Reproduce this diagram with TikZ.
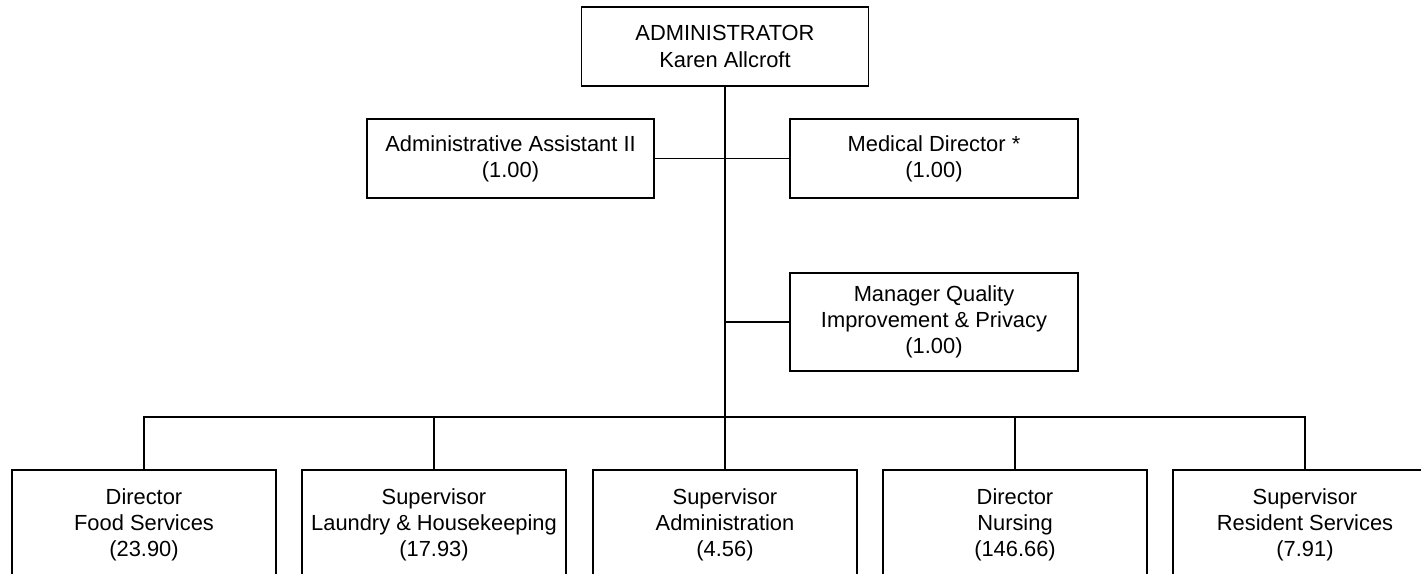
\documentclass[tikz,border=0pt]{standalone}
\usepackage{fontspec}
\setmainfont{Liberation Sans}
\usetikzlibrary{positioning}

\begin{document}
\begin{tikzpicture}[x=0.02cm, y=-0.02cm, line width=0.8pt,
    box/.style={draw, rectangle, inner sep=0pt, align=center,
        font=\fontsize{12.45}{14.9}\selectfont}]
    % page frame, bottom boxes run off the page
    \useasboundingbox (0,0) rectangle (1421,574);
    \clip (0,0) rectangle (1421,574);

    % top box
    \node[box, minimum width=287*0.02cm, minimum height=79*0.02cm] (admin) at (725,46.5) {ADMINISTRATOR\\Karen Allcroft};

    % two boxes beside the main line
    \node[box, minimum width=287*0.02cm, minimum height=79*0.02cm] (asst) at (510.5,158.5) {Administrative Assistant II\\(1.00)};
    \node[box, minimum width=288*0.02cm, minimum height=79*0.02cm] (med) at (934,158.5) {Medical Director *\\(1.00)};
    \draw (asst.east) -- (med.west);

    % quality box
    \node[box, minimum width=288*0.02cm, minimum height=98*0.02cm] (qual) at (934,322) {Manager Quality\\Improvement \& Privacy\\(1.00)};

    % bus line
    \coordinate (bus) at (725,417);
    \draw (admin.south) -- (bus);
    \draw (qual.west) -- (qual.west -| bus);

    % bottom row
    \node[box, minimum width=264*0.02cm, minimum height=110*0.02cm] (food) at (144,525) {Director\\Food Services\\(23.90)};
    \node[box, minimum width=264*0.02cm, minimum height=110*0.02cm] (laundry) at (434,525) {Supervisor\\Laundry \& Housekeeping\\(17.93)};
    \node[box, minimum width=264*0.02cm, minimum height=110*0.02cm] (supadm) at (725,525) {Supervisor\\Administration\\(4.56)};
    \node[box, minimum width=264*0.02cm, minimum height=110*0.02cm] (nursing) at (1015,525) {Director\\Nursing\\(146.66)};
    \node[box, minimum width=264*0.02cm, minimum height=110*0.02cm] (resid) at (1305,525) {Supervisor\\Resident Services\\(7.91)};

    % drops from the bus
    \draw (food.north) |- (bus) -| (resid.north);
    \draw (laundry.north) -- (laundry.north |- bus);
    \draw (supadm.north) -- (bus);
    \draw (nursing.north) -- (nursing.north |- bus);
\end{tikzpicture}
\end{document}
